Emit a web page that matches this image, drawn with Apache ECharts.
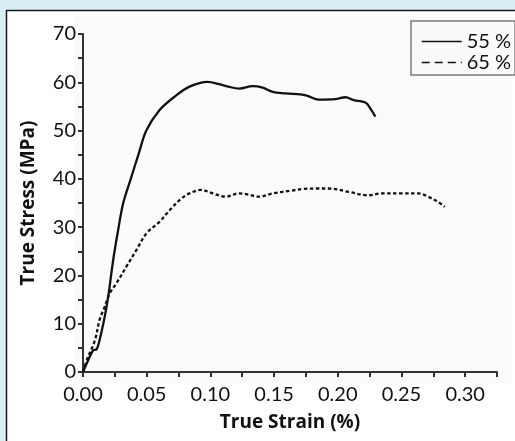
<!DOCTYPE html>
<html>
<head>
<meta charset="utf-8">
<script src="https://cdn.jsdelivr.net/npm/echarts@6/dist/echarts.min.js"></script>
<style>
html,body{margin:0;padding:0;background:#daeff5;}
#c{width:515px;height:441px;}
</style>
</head>
<body>
<div id="c"></div>
<script>
// Data
const seriesNames = ['55 %', '65 %'];
const strain55 = [0, 0.003, 0.008, 0.0107, 0.013, 0.017, 0.0198, 0.0237, 0.0276, 0.0315, 0.0375, 0.0435, 0.0497, 0.060, 0.0718, 0.0836, 0.0979, 0.107, 0.114, 0.1227, 0.133, 0.141, 0.149, 0.159, 0.175, 0.185, 0.198, 0.206, 0.2125, 0.2217, 0.2255, 0.2295];
const stress55 = [0, 1.8, 4.5, 4.7, 6.6, 11.4, 15.6, 23.2, 29.4, 34.9, 40.0, 45.0, 50.0, 54.2, 57.0, 59.1, 60.1, 59.6, 59.1, 58.7, 59.2, 58.9, 58.0, 57.7, 57.3, 56.4, 56.5, 56.9, 56.3, 55.8, 54.6, 52.9];
const strain65 = [0, 0.003, 0.0094, 0.013, 0.017, 0.021, 0.0263, 0.034, 0.042, 0.0498, 0.060, 0.068, 0.0758, 0.0836, 0.0927, 0.1018, 0.112, 0.1227, 0.129, 0.138, 0.149, 0.162, 0.173, 0.184, 0.193, 0.2086, 0.224, 0.2346, 0.250, 0.263, 0.271, 0.280, 0.284];
const stress65 = [0, 2.5, 6.6, 10.8, 13.5, 16.3, 18.4, 21.8, 25.3, 28.7, 31.1, 33.5, 35.6, 37.0, 37.7, 37.0, 36.3, 37.0, 36.8, 36.3, 37.0, 37.5, 37.9, 38.0, 38.0, 37.3, 36.6, 37.0, 37.0, 37.0, 36.3, 35.0, 34.2];
const xTicks = ['0.00', '0.05', '0.10', '0.15', '0.20', '0.25', '0.30'];
const xTitle = 'True Strain (%)';
const yTitle = 'True Stress (MPa)';

const pairs = (xs, ys) => xs.map((x, i) => [x, ys[i]]);
const FONT = 'Lato';
const TFONT = 'Open Sans';
const chart = echarts.init(document.getElementById('c'), null, {renderer: 'canvas'});
chart.setOption({
  backgroundColor: '#daeff5',
  animation: false,
  graphic: [
    {type: 'rect', z: -10, silent: true, shape: {x: 6.5, y: 10.5, width: 520, height: 450},
     style: {fill: '#ffffff', stroke: '#1a1a1a', lineWidth: 1.5}},
    {type: 'rect', z: -9, silent: true, shape: {x: 74, y: 16, width: 438, height: 367},
     style: {fill: '#fbfbfb'}}
  ],
  grid: {left: 83, right: 18, top: 34, bottom: 69, containLabel: false},
  legend: {
    orient: 'vertical', left: 411, top: 21,
    padding: [10, 4, 2, 10], itemGap: 0,
    itemWidth: 40, itemHeight: 14,
    borderColor: '#7a7a7a', borderWidth: 1.5, backgroundColor: '#fafafa',
    textStyle: {fontFamily: FONT, fontSize: 20, color: '#111', lineHeight: 21},
    data: [
      {name: seriesNames[0], itemStyle: {opacity: 0}, lineStyle: {color: '#111', width: 1.5, type: 'solid'}},
      {name: seriesNames[1], itemStyle: {opacity: 0}, lineStyle: {color: '#111', width: 1.5, type: [8, 5]}}
    ]
  },
  xAxis: {
    type: 'value', min: 0, max: 0.325, interval: 0.025,
    name: xTitle, nameLocation: 'middle', nameGap: 41,
    nameTextStyle: {fontFamily: TFONT, fontSize: 19, fontWeight: 'bold', color: '#111'},
    axisLine: {show: true, lineStyle: {color: '#333', width: 2}},
    axisTick: {show: true, length: 5, lineStyle: {color: '#333', width: 2}},
    splitLine: {show: false},
    axisLabel: {
      fontFamily: FONT, fontSize: 20, color: '#111', margin: 13,
      formatter: v => {
        const k = Math.round(v / 0.05);
        return Math.abs(v - k * 0.05) < 1e-9 && xTicks[k] !== undefined ? xTicks[k] : '';
      }
    }
  },
  yAxis: {
    type: 'value', min: 0, max: 70, interval: 5,
    name: yTitle, nameLocation: 'middle', nameGap: 45,
    nameTextStyle: {fontFamily: TFONT, fontSize: 19, fontWeight: 'bold', color: '#111'},
    axisLine: {show: true, lineStyle: {color: '#333', width: 2}},
    axisTick: {show: true, length: 5, lineStyle: {color: '#333', width: 2}},
    splitLine: {show: false},
    axisLabel: {
      fontFamily: FONT, fontSize: 20, color: '#111', margin: 7,
      formatter: v => (v % 10 === 0 ? String(v) : '')
    }
  },
  series: [
    {name: seriesNames[0], type: 'line', data: pairs(strain55, stress55), showSymbol: false, symbol: 'none',
     smooth: 0.35, lineStyle: {color: '#111', width: 2.3, type: 'solid'}, itemStyle: {color: '#111'}},
    {name: seriesNames[1], type: 'line', data: pairs(strain65, stress65), showSymbol: false, symbol: 'none',
     smooth: 0.35, lineStyle: {color: '#111', width: 2.3, type: [3.5, 2.5]}, itemStyle: {color: '#111'}}
  ]
});
</script>
</body>
</html>
